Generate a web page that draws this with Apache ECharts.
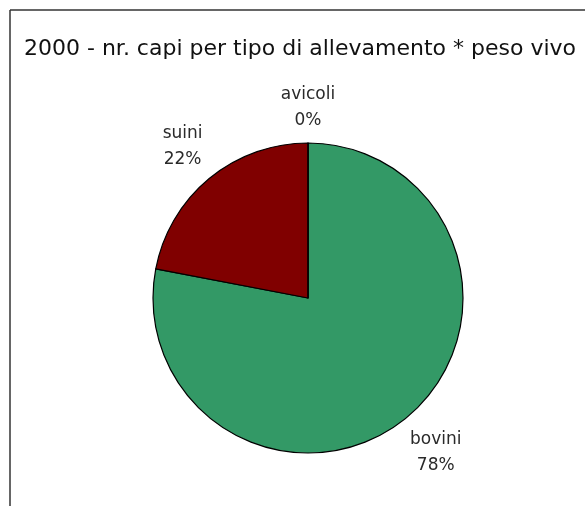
<!DOCTYPE html>
<html>
<head>
<meta charset="utf-8">
<script src="https://cdn.jsdelivr.net/npm/echarts@6/dist/echarts.min.js"></script>
<style>
  html, body { margin: 0; padding: 0; background: #fff; }
  #main { width: 585px; height: 506px; }
</style>
</head>
<body>
<div id="main"></div>
<script>
// dati
const titleText = '2000 - nr. capi per tipo di allevamento * peso vivo';
const categories = ['bovini', 'suini', 'avicoli'];
const values = [78, 22, 0];
const colors = ['#339966', '#800000', '#cccccc'];

const cx = 308, cy = 298, r = 155, gap = 9;
const total = values.reduce((a, b) => a + b, 0);

// angolo medio di ogni fetta (da ore 12, senso orario)
const midAngles = [];
let acc = 0;
values.forEach(v => {
  midAngles.push((acc + v / 2) / total * Math.PI * 2);
  acc += v;
});

const chart = echarts.init(document.getElementById('main'));

chart.setOption({
  animation: false,
  backgroundColor: '#fff',
  title: {
    text: titleText,
    left: 19,
    top: 33,
    textStyle: { fontFamily: 'DejaVu Sans', fontSize: 22, fontWeight: 'normal', color: '#111' }
  },
  graphic: [
    { type: 'line', shape: { x1: 10, y1: 10, x2: 585, y2: 10 }, style: { stroke: '#333', lineWidth: 1.5 } },
    { type: 'line', shape: { x1: 10, y1: 10, x2: 10, y2: 506 }, style: { stroke: '#333', lineWidth: 1.5 } }
  ],
  series: [{
    type: 'pie',
    center: [cx, cy],
    radius: r,
    startAngle: 90,
    clockwise: true,
    avoidLabelOverlap: false,
    minShowLabelAngle: 0,
    data: categories.map((name, i) => ({ name, value: values[i], itemStyle: { color: colors[i] } })),
    itemStyle: { borderColor: '#000', borderWidth: 1.2 },
    label: {
      position: 'outside',
      formatter: '{b}\n{d}%',
      fontFamily: 'DejaVu Sans',
      fontSize: 17,
      lineHeight: 26,
      color: '#2a2a2a'
    },
    labelLine: { show: false },
    labelLayout: function (params) {
      const a = midAngles[params.dataIndex];
      const sx = Math.sin(a), sy = -Math.cos(a);
      const w = params.labelRect.width, h = params.labelRect.height;
      const d = r + gap + Math.abs(sy) * h / 2 + Math.abs(sx) * w / 2;
      return { x: cx + sx * d, y: cy + sy * d, align: 'center', verticalAlign: 'middle' };
    },
    emphasis: { disabled: true }
  }]
});
</script>
</body>
</html>
